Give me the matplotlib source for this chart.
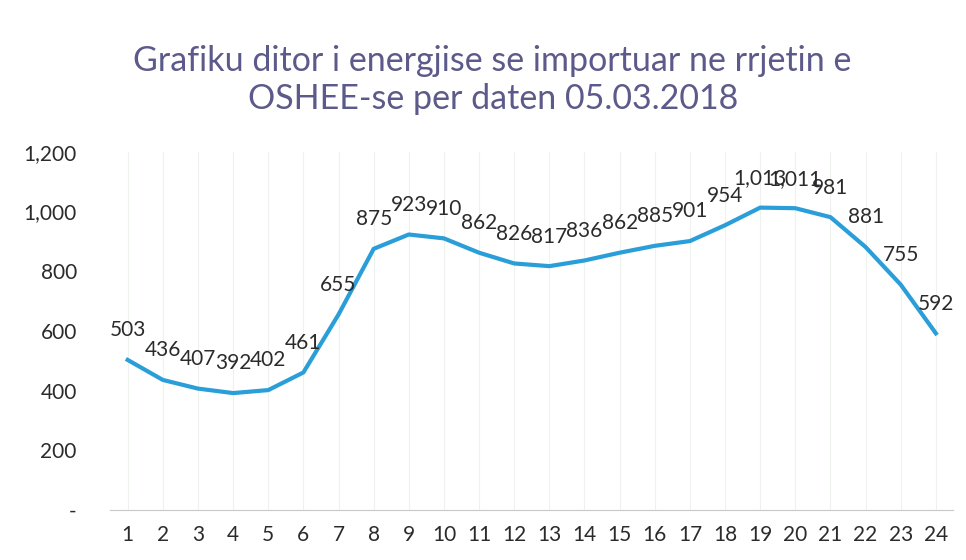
import matplotlib.pyplot as plt

hours = list(range(1, 25))
energy = [503, 436, 407, 392, 402, 461, 655, 875, 923, 910, 862, 826,
          817, 836, 862, 885, 901, 954, 1013, 1011, 981, 881, 755, 592]
yticks = [0, 200, 400, 600, 800, 1000, 1200]
ytick_labels = ["-", "200", "400", "600", "800", "1,000", "1,200"]

plt.rcParams["font.family"] = ["Lato", "DejaVu Sans"]

fig = plt.figure(figsize=(9.66, 5.6), dpi=100)
ax = fig.add_axes([0.114, 0.089, 0.873, 0.64])

ax.plot(hours, energy, color="#2a9ed8", linewidth=3, solid_joinstyle="round")
for h, v in zip(hours, energy):
    ax.annotate(f"{v:,}", (h, v), xytext=(0, 17), textcoords="offset points",
                ha="center", va="baseline", fontsize=15, color="#2b2b2b")

ax.set_xlim(0.5, 24.5)
ax.set_ylim(0, 1200)
ax.set_xticks(hours)
ax.set_xticklabels([str(h) for h in hours])
ax.set_yticks(yticks)
ax.set_yticklabels(ytick_labels)
ax.tick_params(axis="both", length=0, labelsize=15, labelcolor="#2b2b2b")
ax.tick_params(axis="x", pad=11)
ax.tick_params(axis="y", pad=24)
ax.grid(axis="x", color="#eef2ec", linewidth=0.8)
for s in ["top", "right", "left"]:
    ax.spines[s].set_visible(False)
ax.spines["bottom"].set_color("#c8c8c8")

fig.text(0.51, 0.857, "Grafiku ditor i energjise se importuar ne rrjetin e\nOSHEE-se per daten 05.03.2018",
         ha="center", va="center", fontsize=24.5, color="#5b5a8a", linespacing=1.25)

fig.savefig("out.png", dpi=100)
